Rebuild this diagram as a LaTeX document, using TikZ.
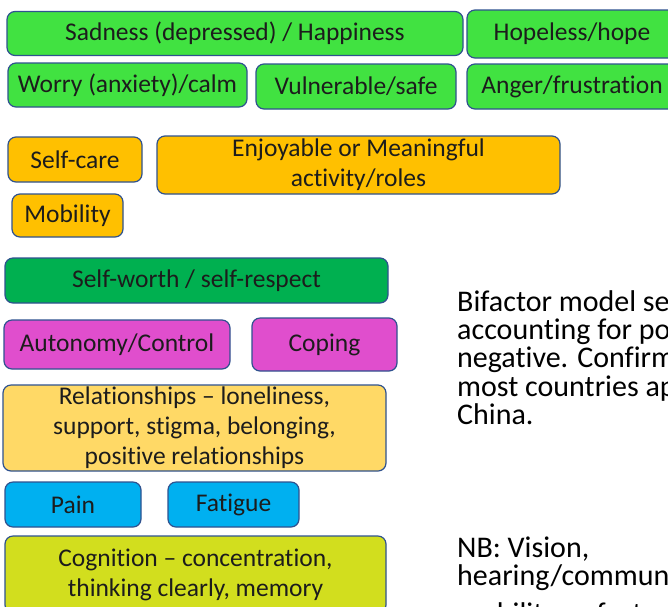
\documentclass[tikz,border=0pt]{standalone}
\usepackage{fontspec}
\setmainfont{Carlito}[Ligatures={NoCommon}]
\definecolor{bordc}{HTML}{2F528F}
\definecolor{txtc}{HTML}{1C1C1C}
\definecolor{gbright}{HTML}{41E241}
\definecolor{gdark}{HTML}{00B050}
\definecolor{orng}{HTML}{FFC000}
\definecolor{mgnt}{HTML}{E04ECD}
\definecolor{lorng}{HTML}{FFD966}
\definecolor{blu}{HTML}{00B0F0}
\definecolor{ygrn}{HTML}{D2DE1E}
\begin{document}
\begin{tikzpicture}[x=1pt,y=-1pt,
  box/.style={draw=bordc, line width=1.2pt, rounded corners=8pt, inner sep=0pt,
    text=txtc, font=\fontsize{25.5}{30}\selectfont, align=center},
  rtext/.style={anchor=base west, inner sep=0pt, font=\fontsize{30}{28.4}\selectfont, text=black}]
\useasboundingbox (0,0) rectangle (668,606);
\clip (0,0) rectangle (668,606);
\fill[white] (0,0) rectangle (668,606);
% emotions
\node[box, fill=gbright, minimum width=456pt, minimum height=44pt] (sad) at (235,33.5) {Sadness (depressed) / Happiness};
\node[box, fill=gbright, minimum width=210pt, minimum height=48pt] (hope) at (572,34) {Hopeless/hope};
\node[box, fill=gbright, minimum width=239pt, minimum height=44pt] (worry) at (127.5,85) {Worry (anxiety)/calm};
\node[box, fill=gbright, minimum width=200pt, minimum height=45pt] (vuln) at (356,86.5) {Vulnerable/safe};
\node[box, fill=gbright, minimum width=210pt, minimum height=45pt] (anger) at (572,86.5) {Anger/frustration};
% activities
\node[box, fill=orng, minimum width=134pt, minimum height=45pt] (selfcare) at (75,159.5) {Self-care};
\node[box, fill=orng, minimum width=403pt, minimum height=58pt] (enjoy) at (358.5,165) {Enjoyable or Meaningful\\activity/roles};
\node[box, fill=orng, minimum width=111pt, minimum height=43pt] (mob) at (67.5,215.5) {Mobility};
% self
\node[box, fill=gdark, minimum width=383pt, minimum height=45pt] (worth) at (196.5,280.5) {Self-worth / self-respect};
\node[box, fill=mgnt, minimum width=226pt, minimum height=49pt] (auto) at (117,344.5) {Autonomy/Control};
\node[box, fill=mgnt, minimum width=145pt, minimum height=53pt] (coping) at (324.5,344.5) {Coping};
\node[box, fill=lorng, minimum width=383pt, minimum height=86pt] (rel) at (194.5,428) {Relationships -- loneliness,\\support, stigma, belonging,\\positive relationships};
\node[box, fill=blu, minimum width=136pt, minimum height=45pt] (pain) at (73,504.5) {Pain};
\node[box, fill=blu, minimum width=131pt, minimum height=45pt] (fat) at (233.5,504.5) {Fatigue};
\node[box, fill=ygrn, minimum width=381pt, minimum height=77pt] (cog) at (195.5,574.5) {Cognition -- concentration,\\thinking clearly, memory};
% right text
\node[rtext] (t1) at (457,311) {Bifactor model seems to fit well};
\node[rtext] (t2) at (457,339) {accounting for positive and};
\node[rtext] (t3) at (457,367) {negative. Confirmed in};
\node[rtext] (t4) at (457,396) {most countries apart from};
\node[rtext] (t5) at (457,424) {China.};
\node[rtext] (t6) at (457,557) {NB: Vision,};
\node[rtext] (t7) at (457,585) {hearing/communication,};
\node[rtext] (t8) at (457,623) {mobility as factors};
\end{tikzpicture}
\end{document}
